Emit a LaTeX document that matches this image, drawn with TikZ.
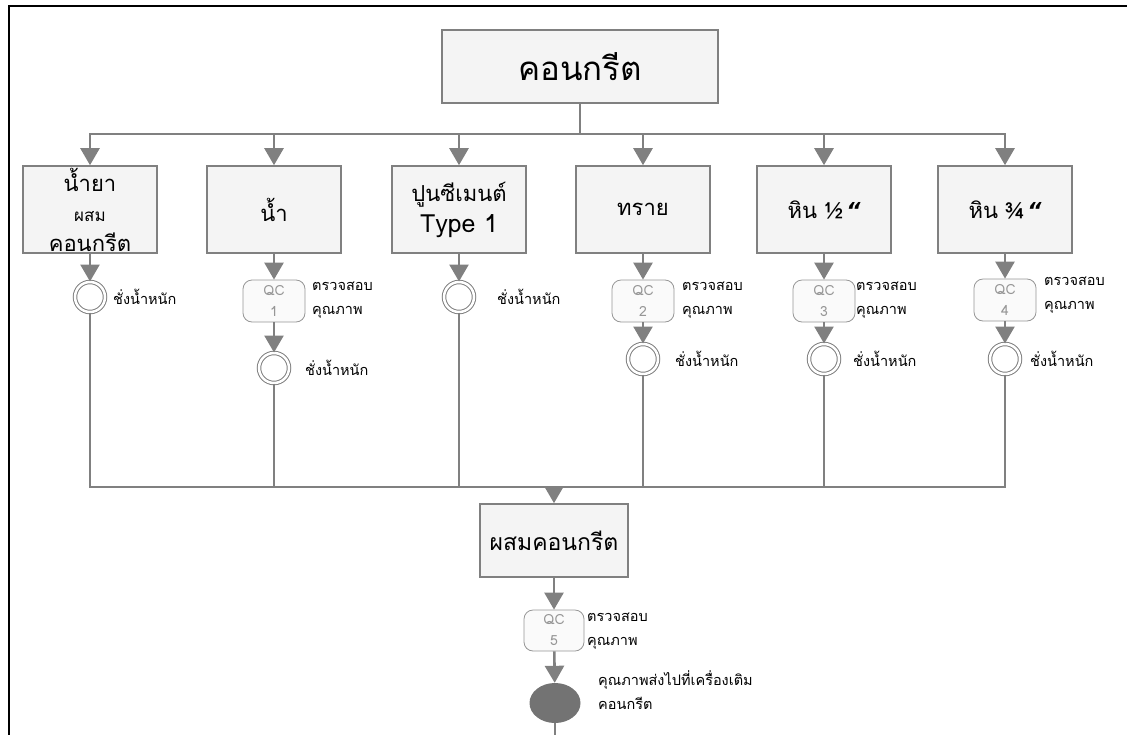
\documentclass[tikz,border=0pt]{standalone}
\usepackage{fontspec}
\newfontfamily\thaifont[Script=Thai]{Loma}
\newfontfamily\quotefont{DejaVu Sans}
\usetikzlibrary{arrows.meta,positioning,shapes.geometric}
\definecolor{linegray}{RGB}{128,128,128}
\definecolor{boxfill}{RGB}{244,244,244}
\definecolor{qcgray}{RGB}{150,150,150}
\newcommand{\inch}{\,{\quotefont\bfseries\itshape “}}
\tikzset{
    block/.style = {draw=linegray, fill=boxfill, line width=1.6pt, rectangle,
        minimum height=87pt,
        minimum width=134pt, align=center, inner sep=0pt,
        font=\thaifont\fontsize{22}{30}\selectfont},
    qc/.style = {draw=qcgray, fill=white!98!black, rounded corners=9pt, line width=0.8pt,
        minimum width=62pt, minimum height=42pt, align=center, inner sep=0pt,
        text=qcgray, font=\thaifont\fontsize{14}{21}\selectfont},
    weigh/.style = {draw=linegray, circle, double=white, double distance=2.5pt,
        line width=1pt, minimum size=30pt, inner sep=0pt},
    arrow/.style = {draw=linegray, line width=2.6pt, -{Triangle[length=17pt,width=19pt]}},
    line/.style = {draw=linegray, line width=2.6pt},
    note/.style = {anchor=west, align=left, inner sep=0pt,
        font=\thaifont\fontsize{14.5}{24}\selectfont}
}

\begin{document}
\begin{tikzpicture}[x=1pt, y=-1pt]
    \useasboundingbox (0,0) rectangle (1127,734);
    \draw[line width=2pt] (9,740) -- (9,6) -- (1135,6);
    % top
    \node[block, minimum width=276pt, minimum height=73pt,
        font=\thaifont\fontsize{33}{40}\selectfont] (top) at (580,66.5) {คอนกรีต};
    \coordinate (bus) at (580,134);
    \draw[line] (top) -- (bus);
    % materials
    \node[block] (m1) at (90,209.5) {น้ำยา\\{\fontsize{17}{30}\selectfont ผสม}\\คอนกรีต};
    \node[block] (m2) at (274,209.5) {น้ำ};
    \node[block, font=\thaifont\fontsize{22}{31}\selectfont] (m3) at (459,209.5) {ปูนซีเมนต์\\{\fontsize{25}{31}\selectfont Type 1}};
    \node[block] (m4) at (643,209.5) {ทราย};
    \node[block] (m5) at (824,209.5) {หิน ½\inch};
    \node[block] (m6) at (1005,209.5) {หิน ¾\inch};
    \foreach \i in {1,...,6}
        \draw[arrow] (bus) -| (m\i);
    % checks and weighing
    \node[qc] (qc1) at (274,301) {QC\\1};
    \node[qc] (qc2) at (643,301) {QC\\2};
    \node[qc] (qc3) at (824,301) {QC\\3};
    \node[qc] (qc4) at (1005,300) {QC\\4};
    \node[weigh] (w1) at (90,297) {};
    \node[weigh] (w2) at (274,368) {};
    \node[weigh] (w3) at (459,297) {};
    \node[weigh] (w4) at (643,359) {};
    \node[weigh] (w5) at (824,359) {};
    \node[weigh] (w6) at (1005,359) {};
    \draw[arrow] (m1) -- (w1);
    \draw[arrow] (m3) -- (w3);
    \foreach \m/\q/\w in {m2/qc1/w2, m4/qc2/w4, m5/qc3/w5, m6/qc4/w6} {
        \draw[arrow] (\m) -- (\q);
        \draw[arrow] (\q) -- (\w);
    }
    \node[note] (l1) at (113,297) {ชั่งน้ำหนัก};
    \node[note] (l2) at (305,368) {ชั่งน้ำหนัก};
    \node[note] (l3) at (497,297) {ชั่งน้ำหนัก};
    \node[note] (l4) at (675,359) {ชั่งน้ำหนัก};
    \node[note] (l5) at (853,359) {ชั่งน้ำหนัก};
    \node[note] (l6) at (1030,359) {ชั่งน้ำหนัก};
    \node[note] (k1) at (312,300) {ตรวจสอบ\\คุณภาพ};
    \node[note] (k2) at (682,300) {ตรวจสอบ\\คุณภาพ};
    \node[note] (k3) at (856,300) {ตรวจสอบ\\คุณภาพ};
    \node[note] (k4) at (1044,295) {ตรวจสอบ\\คุณภาพ};
    % mixing
    \coordinate (merge) at (554,487);
    \foreach \i in {1,...,6}
        \draw[line] (w\i) |- (merge);
    \node[block, minimum width=148pt, minimum height=73pt,
        font=\thaifont\fontsize{23}{31}\selectfont] (mix) at (554,540.5) {ผสมคอนกรีต};
    \node[qc, minimum width=60pt, minimum height=41pt] (qc5) at (554,630.5) {QC\\5};
    \node[note] (k5) at (587,631) {ตรวจสอบ\\คุณภาพ};
    \node[ellipse, fill=linegray!110, minimum width=51pt, minimum height=40pt] (done) at (555,703) {};
    \node[note] (k6) at (598,690.5) {คุณภาพส่งไปที่เครื่องเติม\\คอนกรีต};
    \coordinate (exit) at (555,740);
    \draw[arrow] (merge) -- (mix);
    \draw[arrow] (mix) -- (qc5);
    \draw[arrow] (qc5) -- (done);
    \draw[line] (done) -- (exit);
\end{tikzpicture}
\end{document}
